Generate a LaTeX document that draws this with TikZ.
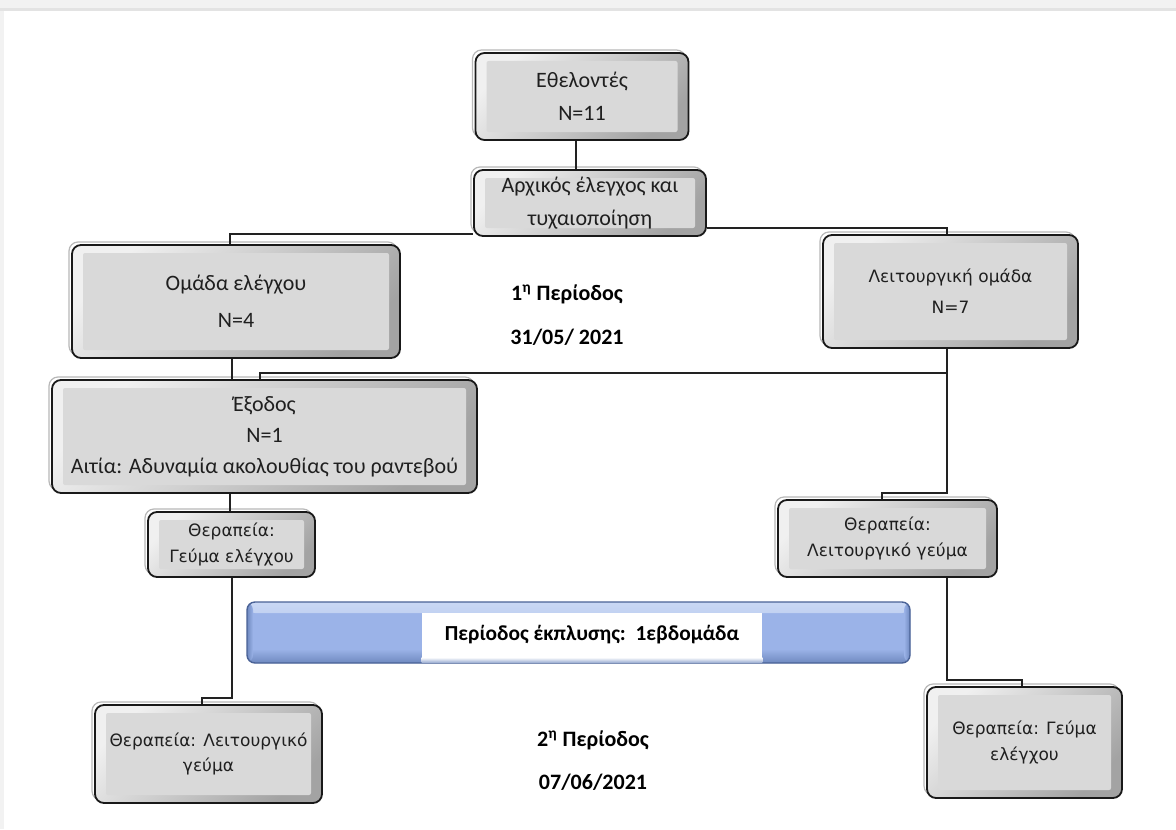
\documentclass[tikz,border=0pt]{standalone}
\usepackage{fontspec}
\setmainfont{Carlito}
\newfontfamily\dvs{DejaVu Sans}
\usetikzlibrary{calc}
\definecolor{boxgray}{HTML}{D9D9D9}
\definecolor{linec}{HTML}{222222}
\definecolor{bardraw}{HTML}{4A6296}
\definecolor{bartop}{HTML}{CAD8F4}
\definecolor{barmid}{HTML}{9BB3E8}
\definecolor{barbot}{HTML}{6F89BF}
\definecolor{pageband}{HTML}{F2F2F2}
\definecolor{pageline}{HTML}{E3E3E3}
\tikzset{
  gbox/.style={draw=black!90, line width=0.9pt, rounded corners=4.5pt, inner sep=0pt, align=center, text=black!88,
    top color=white!94!black, bottom color=black!36, shading angle=45,
    path picture={\fill[boxgray, rounded corners=1pt] ([xshift=5.5pt,yshift=-4pt]path picture bounding box.north west) rectangle ([xshift=-5.5pt,yshift=4pt]path picture bounding box.south east);},
    preaction={draw=black!28, line width=0.6pt, transform canvas={shift={(-1.5pt,1.5pt)}}}},
  conn/.style={draw=linec, line width=0.9pt},
  lbl/.style={font=\bfseries\fontsize{11}{13}\selectfont, text=black, inner sep=0pt},
  bluebar/.style={draw=bardraw, line width=0.7pt, rounded corners=4pt, fill=barmid, inner sep=0pt,
    path picture={
      \shade[top color=bartop, bottom color=barmid] (path picture bounding box.north west) rectangle ([yshift=-5.5pt]path picture bounding box.north east);
      \shade[top color=barmid, bottom color=barbot] ([yshift=7pt]path picture bounding box.south west) rectangle (path picture bounding box.south east);
      \shade[left color=barbot, right color=barmid] (path picture bounding box.south west) rectangle ([xshift=3pt]path picture bounding box.north west);
      \shade[left color=barmid, right color=barbot] ([xshift=-3pt]path picture bounding box.south east) rectangle (path picture bounding box.north east);
    }}
}
\begin{document}
\begin{tikzpicture}[x=0.5pt,y=-0.5pt]
\useasboundingbox (0,0) rectangle (1176,829);
\fill[white] (0,0) rectangle (1176,829);
\fill[pageband] (0,0) rectangle (1176,8);
\fill[pageline] (0,8) rectangle (1176,11);
\fill[pageband] (0,11) rectangle (4,829);

% boxes
\node[gbox, minimum width=106.5pt, minimum height=43.5pt, font=\fontsize{11}{16.5}\selectfont] (eth) at (582,96.5) {Εθελοντές\\N=11};
\node[gbox, minimum width=116pt, minimum height=33pt, font=\fontsize{11}{16.5}\selectfont] (arx) at (590,203) {Αρχικός έλεγχος και\\τυχαιοποίηση};
\node[gbox, minimum width=164pt, minimum height=56.5pt, font=\fontsize{11}{18.5}\selectfont] (omada) at (236,301.5) {Ομάδα ελέγχου\\N=4};
\node[gbox, minimum width=127.5pt, minimum height=56.5pt, font=\dvs\fontsize{8.5}{15.5}\selectfont] (leit) at (950.5,291.5) {Λειτουργική ομάδα\\N=7};
\node[gbox, minimum width=212.5pt, minimum height=56.5pt, font=\fontsize{11}{15.5}\selectfont] (exod) at (264.5,436.5) {Έξοδος\\N=1\\Αιτία: Αδυναμία ακολουθίας του ραντεβού};
\node[gbox, minimum width=83.5pt, minimum height=32.5pt, font=\dvs\fontsize{8.5}{13}\selectfont] (therL) at (231.5,544.5) {Θεραπεία:\\Γεύμα ελέγχου};
\node[gbox, minimum width=109.5pt, minimum height=38.5pt, font=\dvs\fontsize{8.5}{13}\selectfont] (therR) at (887.5,538.5) {Θεραπεία:\\Λειτουργικό γεύμα};
\node[gbox, minimum width=113.5pt, minimum height=49pt, font=\dvs\fontsize{8.5}{12.5}\selectfont] (botL) at (208.5,754) {Θεραπεία: Λειτουργικό\\γεύμα};
\node[gbox, minimum width=97.5pt, minimum height=55.5pt, font=\dvs\fontsize{8.5}{13}\selectfont] (botR) at (1024.5,742.5) {Θεραπεία: Γεύμα\\ελέγχου};

% wash-out bar
\node[bluebar, minimum width=331.5pt, minimum height=30.5pt] (wash) at (578.5,632.5) {};
\node[fill=white, inner sep=0pt, minimum width=170pt, minimum height=22pt, font=\bfseries\fontsize{10.7}{13}\selectfont] (washtxt) at (592,635) {Περίοδος έκπλυσης:~~1εβδομάδα};
\shade[top color=white, bottom color=barbot!70!white] (washtxt.south west) rectangle ([yshift=-2.6pt]washtxt.south east);

% labels
\node[lbl] (p1) at (567,294) {1\textsuperscript{η} Περίοδος};
\node[lbl] (d1) at (567,337) {31/05/ 2021};
\node[lbl] (p2) at (593,740) {2\textsuperscript{η} Περίοδος};
\node[lbl] (d2) at (593,782) {07/06/2021};

% connectors
\draw[conn] (eth.south -| 576,0) -- (arx.north -| 576,0);
\draw[conn] (arx.west |- 0,234) -| (omada.north -| 230,0);
\draw[conn] (arx.east |- 0,228) -| (leit.north -| 947,0);
\draw[conn] (omada.south -| 232,0) -- (exod.north -| 232,0);
\draw[conn] (leit.south -| 947,0) |- (260,373) -- (exod.north -| 260,0);
\draw[conn] (leit.south -| 947,0) -- (947,493) -| (therR.north -| 882,0);
\draw[conn] (exod.south -| 230,0) -- (therL.north -| 230,0);
\draw[conn] (therL.south -| 232,0) -- (232,698) -| (botL.north -| 202,0);
\draw[conn] (therR.south -| 947,0) -- (947,680) -| (botR.north -| 1022,0);
\end{tikzpicture}
\end{document}
